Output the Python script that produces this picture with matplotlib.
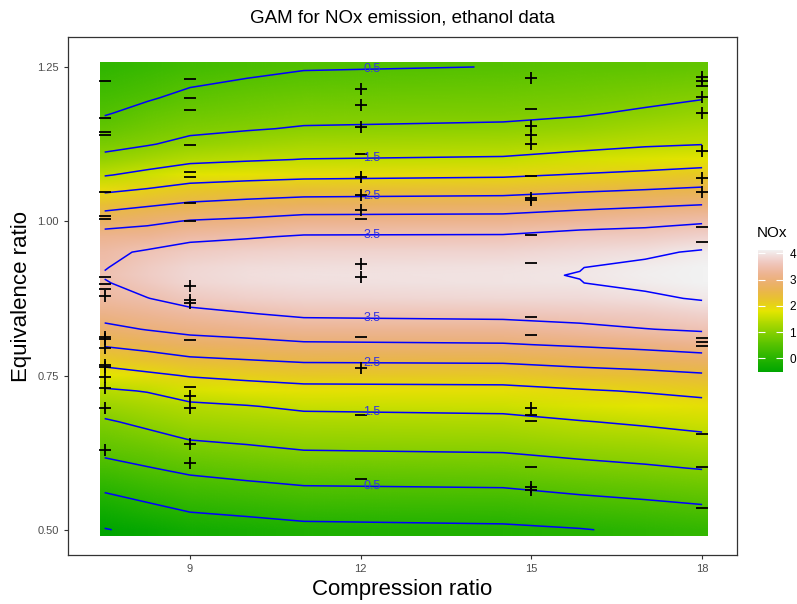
import numpy as np
import matplotlib
matplotlib.use("Agg")
import matplotlib.pyplot as plt
from matplotlib.colors import LinearSegmentedColormap, Normalize, hsv_to_rgb
from matplotlib.image import NonUniformImage
from matplotlib.patches import Rectangle

plt.rcParams['font.family'] = ['Liberation Sans', 'DejaVu Sans']

# fitted surface (rows: equivalence ratio, cols: compression ratio)
comp_grid = [7.5, 8.25, 9, 10, 11, 14.5, 15.85, 17, 18]
equiv_grid = [0.500, 0.525, 0.550, 0.575, 0.600, 0.625, 0.650, 0.675, 0.700, 0.725,
              0.750, 0.775, 0.800, 0.825, 0.850, 0.875, 0.900, 0.9125, 0.925, 0.950,
              0.975, 1.000, 1.025, 1.050, 1.075, 1.100, 1.125, 1.150, 1.175, 1.200,
              1.225, 1.250]
nox_grid = [
    [-0.52, -0.40, -0.25, -0.18, -0.12, -0.08, -0.02, 0.07, 0.15],
    [-0.31, -0.17, -0.03, 0.03, 0.10, 0.13, 0.21, 0.29, 0.36],
    [-0.09, 0.05, 0.18, 0.25, 0.32, 0.34, 0.44, 0.51, 0.58],
    [0.13, 0.27, 0.38, 0.46, 0.53, 0.56, 0.66, 0.73, 0.80],
    [0.36, 0.48, 0.60, 0.68, 0.75, 0.78, 0.88, 0.95, 1.02],
    [0.57, 0.69, 0.82, 0.89, 0.97, 1.00, 1.09, 1.15, 1.22],
    [0.76, 0.89, 1.04, 1.10, 1.16, 1.19, 1.29, 1.35, 1.43],
    [0.95, 1.10, 1.23, 1.29, 1.35, 1.38, 1.48, 1.56, 1.64],
    [1.19, 1.30, 1.42, 1.48, 1.57, 1.61, 1.72, 1.79, 1.86],
    [1.44, 1.52, 1.70, 1.78, 1.85, 1.87, 1.96, 2.03, 2.11],
    [1.79, 1.91, 2.03, 2.11, 2.18, 2.20, 2.30, 2.36, 2.44],
    [2.17, 2.29, 2.42, 2.49, 2.56, 2.58, 2.67, 2.74, 2.82],
    [2.55, 2.66, 2.80, 2.86, 2.94, 2.97, 3.05, 3.13, 3.21],
    [2.89, 3.02, 3.12, 3.19, 3.26, 3.29, 3.39, 3.49, 3.55],
    [3.16, 3.26, 3.38, 3.48, 3.58, 3.62, 3.67, 3.71, 3.80],
    [3.38, 3.49, 3.66, 3.76, 3.82, 3.86, 3.88, 3.94, 4.03],
    [3.47, 3.67, 3.83, 3.90, 3.94, 3.97, 3.995, 4.07, 4.12],
    [3.53, 3.70, 3.85, 3.92, 3.95, 3.98, 4.005, 4.08, 4.13],
    [3.48, 3.69, 3.83, 3.90, 3.93, 3.96, 3.995, 4.07, 4.12],
    [3.41, 3.55, 3.69, 3.75, 3.80, 3.82, 3.88, 3.94, 4.04],
    [3.21, 3.24, 3.39, 3.46, 3.54, 3.55, 3.66, 3.68, 3.77],
    [2.78, 2.90, 3.03, 3.09, 3.18, 3.19, 3.29, 3.37, 3.45],
    [2.36, 2.48, 2.60, 2.68, 2.76, 2.79, 2.89, 2.96, 3.03],
    [1.93, 2.05, 2.19, 2.26, 2.31, 2.35, 2.45, 2.52, 2.59],
    [1.47, 1.62, 1.78, 1.84, 1.89, 1.94, 2.03, 2.10, 2.17],
    [1.12, 1.27, 1.40, 1.46, 1.51, 1.55, 1.66, 1.74, 1.81],
    [0.87, 0.97, 1.11, 1.20, 1.27, 1.30, 1.37, 1.45, 1.49],
    [0.66, 0.80, 0.91, 0.97, 1.03, 1.07, 1.15, 1.25, 1.32],
    [0.47, 0.63, 0.75, 0.82, 0.88, 0.91, 0.96, 1.06, 1.15],
    [0.35, 0.46, 0.60, 0.68, 0.74, 0.78, 0.83, 0.90, 0.98],
    [0.22, 0.33, 0.45, 0.54, 0.60, 0.65, 0.70, 0.76, 0.82],
    [0.10, 0.20, 0.30, 0.39, 0.47, 0.505, 0.57, 0.61, 0.65],
]

# observations and sign of their residual
obs_C = [7.5] * 20 + [9] * 17 + [12] * 14 + [15] * 18 + [18] * 16
obs_E = [1.227, 1.168, 1.144, 1.140, 1.047, 1.008, 1.003, 0.910, 0.899, 0.891,
         0.879, 0.813, 0.809, 0.794, 0.767, 0.764, 0.748, 0.730, 0.697, 0.629,
         1.230, 1.199, 1.180, 1.123, 1.080, 1.071, 1.030, 1.001, 0.895, 0.872,
         0.868, 0.808, 0.732, 0.717, 0.697, 0.639, 0.609,
         1.215, 1.188, 1.153, 1.109, 1.072, 1.043, 1.018, 1.003, 0.931, 0.909,
         0.813, 0.762, 0.686, 0.583,
         1.232, 1.182, 1.154, 1.140, 1.125, 1.074, 1.038, 1.035, 0.977, 0.933,
         0.845, 0.815, 0.697, 0.686, 0.677, 0.601, 0.569, 0.564,
         1.234, 1.227, 1.219, 1.202, 1.175, 1.114, 1.070, 1.047, 0.990, 0.967,
         0.811, 0.805, 0.798, 0.655, 0.601, 0.535]
obs_sign = list("----------++++++++++"
                "--------+++--++++"
                "+++-+++-++-+--"
                "+-+++-++----+---++"
                "++-+++++--------")

contour_levels = [-0.5, 0, 0.5, 1, 1.5, 2, 2.5, 3, 3.5, 4]
label_levels = [0.5, 1.5, 2.5, 3.5]
label_at_C = 12.2

# terrain.colors style palette
t = np.linspace(0, 1, 256)
hue = np.where(t < 0.5, 1/3 - t / 3, (1 - t) / 3)
sat = np.where(t < 0.5, 1.0, 2 * (1 - t))
val = np.where(t < 0.5, 0.65 + t * 0.5, 0.9 + (t - 0.5) * 0.1)
terrain = LinearSegmentedColormap.from_list("terrain", hsv_to_rgb(np.column_stack([hue, sat, val])))

C = np.array(comp_grid)
E = np.array(equiv_grid)
Z = np.array(nox_grid)

fig = plt.figure(figsize=(7.97, 6.04), dpi=100)
ax = fig.add_axes([68/797, 1 - 555/604, 669/797, 518/604])

# raster, half a tile wider than the grid on each side
x0, x1, y0, y1 = 7.42, 18.09, 0.4915, 1.258
norm = Normalize(vmin=Z.min(), vmax=Z.max())
im = NonUniformImage(ax, interpolation='bilinear', cmap=terrain, norm=norm,
                     extent=(x0, x1, y0, y1))
im.set_data(C, E, Z)
ax.add_image(im)
im.set_clip_path(Rectangle((x0, y0), x1 - x0, y1 - y0, transform=ax.transData))

cs = ax.contour(C, E, Z, levels=contour_levels, colors='blue', linewidths=1.1,
                negative_linestyles='solid')

# labels where each labelled contour crosses C = 12.2
for lev, segs in zip(cs.levels, cs.allsegs):
    if not np.any(np.isclose(lev, label_levels)):
        continue
    for seg in segs:
        dx = seg[:, 0] - label_at_C
        idx = np.where(np.sign(dx[:-1]) != np.sign(dx[1:]))[0]
        for i in idx:
            f = dx[i] / (dx[i] - dx[i + 1])
            ey = seg[i, 1] + f * (seg[i + 1, 1] - seg[i, 1])
            ax.text(label_at_C, ey, f"{lev:g}", color='#3535e0', fontsize=9,
                    ha='center', va='center')

oc = np.array(obs_C)
oe = np.array(obs_E)
osg = np.array(obs_sign)
ax.plot(oc[osg == '+'], oe[osg == '+'], '+', color='black', ms=8, mew=1.3)
ax.plot(oc[osg == '-'], oe[osg == '-'], '_', color='black', ms=8, mew=1.3)

ax.set_xlim(6.856, 18.613)
ax.set_ylim(0.4591, 1.2986)
ax.set_xticks([9, 12, 15, 18])
ax.set_yticks([0.5, 0.75, 1.0, 1.25])
ax.set_yticklabels(['0.50', '0.75', '1.00', '1.25'])
ax.tick_params(length=3, width=0.8, color='#333333', labelsize=8, labelcolor='#4D4D4D')
for s in ax.spines.values():
    s.set_color('#333333')
    s.set_linewidth(0.9)

fig.text(0.505, 1 - 18/604, "GAM for NOx emission, ethanol data", ha='center', va='center', fontsize=13.5)
fig.text(0.505, 1 - 590/604, "Compression ratio", ha='center', va='center', fontsize=16)
fig.text(22/797, 1 - 296/604, "Equivalence ratio", ha='center', va='center', fontsize=16, rotation=90)

cax = fig.add_axes([758/797, 1 - 372/604, 24.5/797, 122/604])
cb = fig.colorbar(im, cax=cax, ticks=[0, 1, 2, 3, 4])
cb.outline.set_visible(False)
cax.tick_params(direction='in', length=5, width=0.8, color='white', left=True, right=True,
                labelsize=8.5, pad=5)
cax.minorticks_off()
fig.text(757/797, 1 - 233/604, "NOx", ha='left', va='center', fontsize=11)

fig.savefig("out.png", dpi=100)
